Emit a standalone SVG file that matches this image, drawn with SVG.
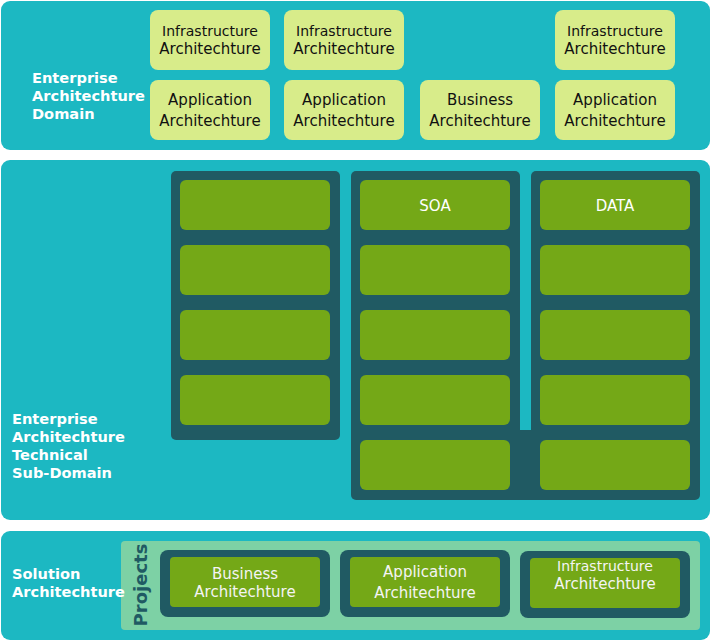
<svg xmlns="http://www.w3.org/2000/svg" width="712" height="642" viewBox="0 0 712 642">
<style>
.panel{fill:#1cb8c2}
.lime{fill:#d8ec8a}
.dark{fill:#205a63}
.green{fill:#74a817}
.proj{fill:#7dd1a5}
text{font-family:"DejaVu Sans",Verdana,sans-serif}
.lbl{font-weight:bold;font-size:14.6px;fill:#ffffff}
.t14{font-size:14px;fill:#111111;text-anchor:middle}
.t15{font-size:15px;fill:#111111;text-anchor:middle}
.w14{font-size:14px;fill:#f4f4f4;text-anchor:middle}
.w15{font-size:15px;fill:#f4f4f4;text-anchor:middle}
.hdr{font-size:15px;fill:#ffffff;text-anchor:middle}
</style>
<rect width="712" height="642" fill="#ffffff"/>
<g id="domain">
<rect class="panel" x="1" y="1" width="709" height="149" rx="9"/>
<text class="lbl" x="32" y="83">Enterprise</text>
<text class="lbl" x="32" y="101">Architechture</text>
<text class="lbl" x="32" y="119">Domain</text>
</g>
<g id="infra1"><rect class="lime" x="150" y="10" width="120" height="60" rx="8"/><text class="t14" x="210" y="36">Infrastructure</text><text class="t15" x="210" y="54">Architechture</text></g>
<g id="infra2"><rect class="lime" x="284" y="10" width="120" height="60" rx="8"/><text class="t14" x="344" y="36">Infrastructure</text><text class="t15" x="344" y="54">Architechture</text></g>
<g id="infra3"><rect class="lime" x="555" y="10" width="120" height="60" rx="8"/><text class="t14" x="615" y="36">Infrastructure</text><text class="t15" x="615" y="54">Architechture</text></g>
<g id="app1"><rect class="lime" x="150" y="80" width="120" height="60" rx="8"/><text class="t15" x="210" y="105">Application</text><text class="t15" x="210" y="126">Architechture</text></g>
<g id="app2"><rect class="lime" x="284" y="80" width="120" height="60" rx="8"/><text class="t15" x="344" y="105">Application</text><text class="t15" x="344" y="126">Architechture</text></g>
<g id="bus1"><rect class="lime" x="420" y="80" width="120" height="60" rx="8"/><text class="t15" x="480" y="105">Business</text><text class="t15" x="480" y="126">Architechture</text></g>
<g id="app3"><rect class="lime" x="555" y="80" width="120" height="60" rx="8"/><text class="t15" x="615" y="105">Application</text><text class="t15" x="615" y="126">Architechture</text></g>

<g id="technical">
<rect class="panel" x="1" y="160" width="709" height="360" rx="9"/>
<text class="lbl" x="12" y="424">Enterprise</text>
<text class="lbl" x="12" y="442">Architechture</text>
<text class="lbl" x="12" y="460">Technical</text>
<text class="lbl" x="12" y="478">Sub-Domain</text>
</g>
<g id="col1">
<rect class="dark" x="171" y="171" width="169" height="269" rx="5"/>
<rect class="green" x="180" y="180" width="150" height="50" rx="6"/>
<rect class="green" x="180" y="245" width="150" height="50" rx="6"/>
<rect class="green" x="180" y="310" width="150" height="50" rx="6"/>
<rect class="green" x="180" y="375" width="150" height="50" rx="6"/>
</g>
<g id="col23">
<rect class="dark" x="351" y="171" width="169" height="329" rx="5"/>
<rect class="dark" x="531" y="171" width="169" height="329" rx="5"/>
<rect class="dark" x="510" y="430" width="30" height="70"/>
<rect class="green" x="360" y="180" width="150" height="50" rx="6"/>
<text class="hdr" x="435" y="211">SOA</text>
<rect class="green" x="360" y="245" width="150" height="50" rx="6"/>
<rect class="green" x="360" y="310" width="150" height="50" rx="6"/>
<rect class="green" x="360" y="375" width="150" height="50" rx="6"/>
<rect class="green" x="360" y="440" width="150" height="50" rx="6"/>
<rect class="green" x="540" y="180" width="150" height="50" rx="6"/>
<text class="hdr" x="615" y="211">DATA</text>
<rect class="green" x="540" y="245" width="150" height="50" rx="6"/>
<rect class="green" x="540" y="310" width="150" height="50" rx="6"/>
<rect class="green" x="540" y="375" width="150" height="50" rx="6"/>
<rect class="green" x="540" y="440" width="150" height="50" rx="6"/>
</g>

<g id="solution">
<rect class="panel" x="1" y="531" width="709" height="109" rx="9"/>
<rect class="proj" x="121" y="541" width="579" height="89" rx="4"/>
<text x="147" y="585" transform="rotate(-90 147 585)" style="font-weight:bold;font-size:18px;fill:#205a63;text-anchor:middle">Projects</text>
<text class="lbl" x="12" y="579">Solution</text>
<text class="lbl" x="12" y="597">Architechture</text>
</g>
<g id="pbus"><rect class="dark" x="160" y="550" width="170" height="67" rx="8"/><rect class="green" x="170" y="557" width="150" height="50" rx="4"/><text class="w15" x="245" y="579">Business</text><text class="w15" x="245" y="597">Architechture</text></g>
<g id="papp"><rect class="dark" x="340" y="550" width="170" height="67" rx="8"/><rect class="green" x="350" y="557" width="150" height="50" rx="4"/><text class="w15" x="425" y="577">Application</text><text class="w15" x="425" y="598">Architechture</text></g>
<g id="pinf"><rect class="dark" x="520" y="551" width="170" height="67" rx="8"/><rect class="green" x="530" y="558" width="150" height="50" rx="4"/><text class="w14" x="605" y="571">Infrastructure</text><text class="w15" x="605" y="589">Architechture</text></g>
</svg>
